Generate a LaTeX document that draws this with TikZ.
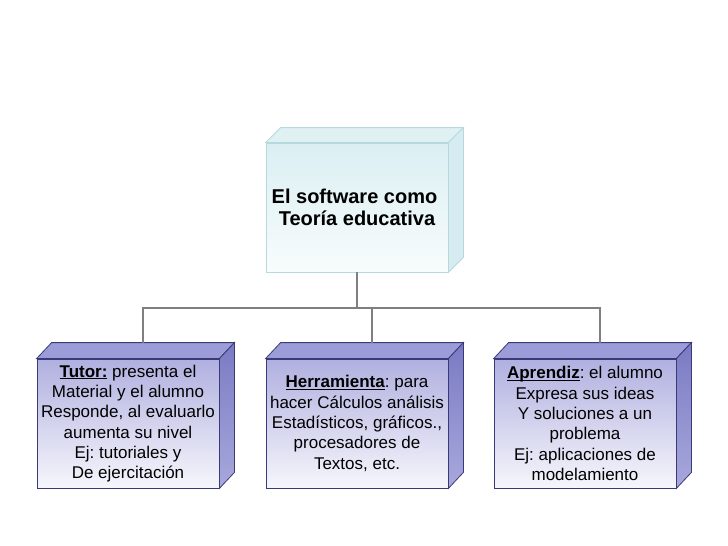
\documentclass[tikz,border=0pt]{standalone}
\usepackage{fontspec}
\setmainfont{Liberation Sans}
\usetikzlibrary{calc}
\frenchspacing
\definecolor{conncol}{HTML}{7F7F7F}
\definecolor{navy}{HTML}{3A3A78}
\definecolor{lavtop}{HTML}{B0B0E0}
\definecolor{lavbot}{HTML}{F6F6FC}
\definecolor{lavface}{HTML}{9C9CD8}
\definecolor{lavsideA}{HTML}{7A7AC4}
\definecolor{lavsideB}{HTML}{A8A8DC}
\definecolor{cyline}{HTML}{B8D8DF}
\definecolor{cytop}{HTML}{DAEFF3}
\definecolor{cybot}{HTML}{F8FCFC}
\definecolor{cyface}{HTML}{E0F1F4}
\definecolor{cyside}{HTML}{D6ECF0}
\newcommand{\myul}[1]{\setbox0\hbox{#1}\rlap{\rule[-2pt]{\wd0}{1.1pt}}\box0\relax}
\tikzset{
  lowbox/.style={draw=navy, line width=0.8pt, top color=lavtop, bottom color=lavbot,
    minimum width=182pt, minimum height=129pt, inner sep=0pt, align=center,
    font=\fontsize{17}{20.3}\selectfont},
  topbox/.style={draw=cyline, line width=0.8pt, top color=cytop, bottom color=cybot,
    minimum width=182pt, minimum height=129pt, inner sep=0pt, align=center,
    font=\bfseries\fontsize{20}{22.5}\selectfont},
  conn/.style={draw=conncol, line width=2.3pt},
  lowtopface/.style={draw=navy, line width=0.8pt, fill=lavface},
  lowsideface/.style={draw=navy, line width=0.8pt, top color=lavsideA, bottom color=lavsideB},
  uptopface/.style={draw=cyline, line width=0.8pt, fill=cyface},
  upsideface/.style={draw=cyline, line width=0.8pt, fill=cyside}
}
\begin{document}
\begin{tikzpicture}[x=1pt,y=-1pt]
\useasboundingbox[fill=white] (0,0) rectangle (728,546);

% top box
\node[topbox] (top) at (357,207.5) {El software como\hspace*{5pt}\\Teoría educativa};
\draw[uptopface] (top.north west) -- ++(15,-15) -- ($(top.north east)+(15,-15)$) -- (top.north east) -- cycle;
\draw[upsideface] (top.north east) -- ++(15,-15) -- ($(top.south east)+(15,-15)$) -- (top.south east) -- cycle;

% bottom boxes
\node[lowbox] (left) at (128,423.5) {\myul{\textbf{Tutor:}} presenta el\\Material y el alumno\\Responde, al evaluarlo\\aumenta su nivel\\Ej: tutoriales y\\De ejercitación};
\node[lowbox] (mid) at (357,423.5) {\myul{\textbf{Herramienta}}: para\\hacer Cálculos análisis\\Estadísticos, gráficos.,\\procesadores de\\Textos, etc.};
\node[lowbox] (right) at (585,423.5) {\myul{\textbf{Aprendiz}}: el alumno\\Expresa sus ideas\\Y soluciones a un\\problema\\Ej: aplicaciones de\\modelamiento};

\foreach \n in {left,mid,right}{
  \draw[lowtopface] (\n.north west) -- ++(15,-16) -- ($(\n.north east)+(15,-16)$) -- (\n.north east) -- cycle;
  \draw[lowsideface] (\n.north east) -- ++(15,-16) -- ($(\n.south east)+(15,-16)$) -- (\n.south east) -- cycle;
}

% connectors
\coordinate (lt) at ($(left.north)+(15,-16)$);
\coordinate (mt) at ($(mid.north)+(15,-16)$);
\coordinate (rt) at ($(right.north)+(15,-16)$);
\coordinate (bar) at ($(top.south)+(0,35.5)$);
\draw[conn] (top.south) -- (bar);
\draw[conn] (lt) -- (lt |- bar) -- (rt |- bar) -- (rt);
\draw[conn] (mt) -- (mt |- bar);
\end{tikzpicture}
\end{document}
